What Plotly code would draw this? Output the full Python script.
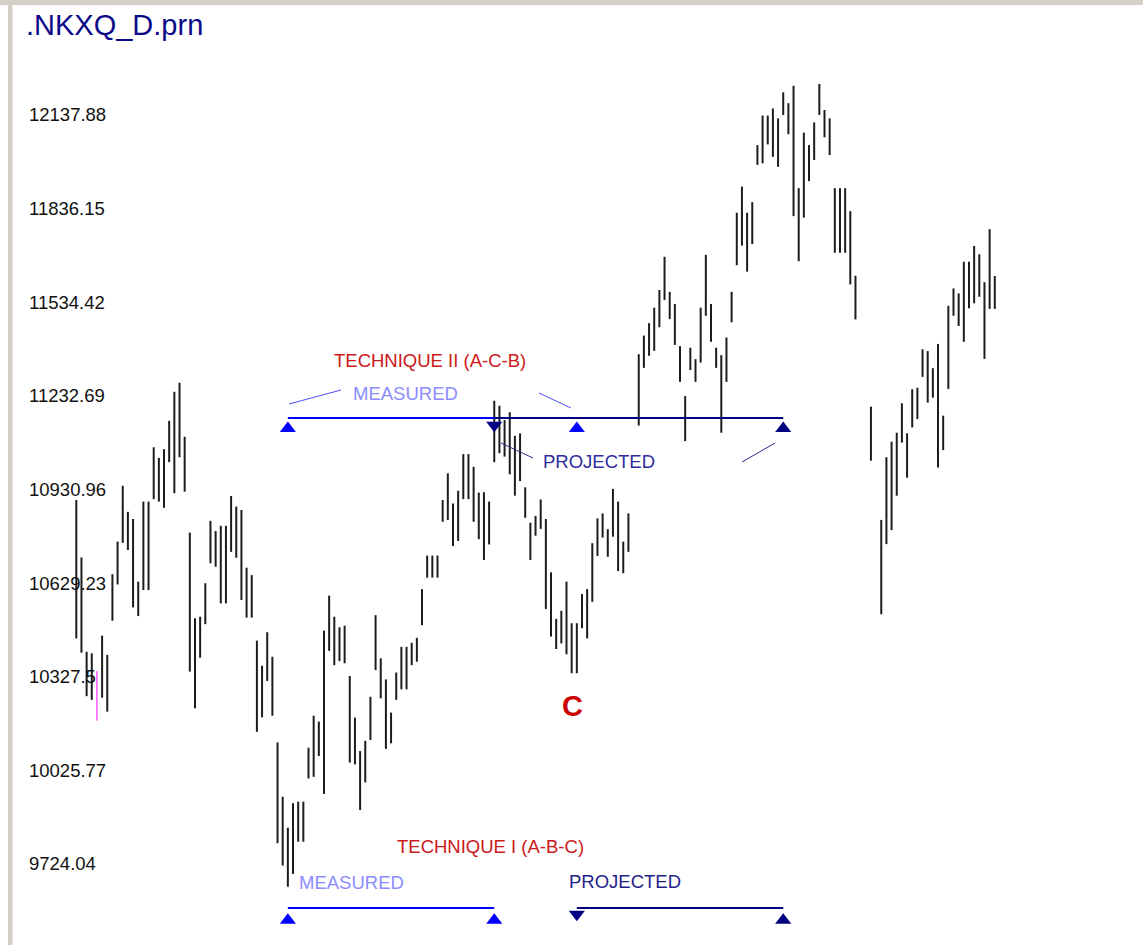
import plotly.graph_objects as go

# Daily high / low of .NKXQ, one entry per trading-day slot (None = no bar drawn)
highs = [
    10897, 10712, 10408, 10403, 10346, 10460, 10398, 10658, 10763, 10943,
    10859, 10836, 10634, 10892, 10892, 11067, 11033, 11061, 11152, 11246,
    11275, 11101, 10792, 10516, 10521, 10629, 10830, 10797, 10814, 10814,
    10910, 10876, 10865, 10679, 10655, 10444, 10363, 10471, 10392, 10116,
    9941, 9841, 9920, 9925, 9925, 10099, 10202, 10183, 10476, 10589,
    10521, 10487, 10492, 10330, 10196, 10088, 10121, 10263, 10526, 10387,
    10319, 10212, 10341, 10424, 10424, 10437, 10453, 10610, 10718, 10718,
    10718, 10897, 10983, 10886, 10927, 11045, 11045, 11004, 10921, 10922,
    10892, 11217, 11201, 11155, 11180, 11104, 11112, 10938, 10824, 10846,
    10899, 10836, 10664, 10514, 10540, 10634, 10500, 10500, 10594, 10610,
    10758, 10838, 10854, 10803, 10933, 10892, 10763, 10854, None, 11367,
    11427, 11467, 11517, 11574, 11681, 11568, 11529, 11393, 11232, 11388,
    11351, 11517, 11687, 11529, 11388, 11364, 11421, 11568, 11823, 11907,
    11823, 11857, 12041, 12136, 12136, 12159, 12127, 12211, 12176, 12232,
    11902, 12081, 12041, 12114, 12238, 12154, 12127, 11902, 11902, 11902,
    11828, 11620, None, None, 11198, None, 10833, 11035, 11085, 11114,
    11209, 11112, 11254, 11259, 11383, 11377, 11322, 11400, 11169, 11523,
    11579, 11563, 11665, 11665, 11716, 11689, 11599, 11770, 11619,
]
lows = [
    10451, 10405, 10265, 10253, 10186, 10260, 10215, 10508, 10625, 10759,
    10736, 10551, 10523, 10607, 10607, 10900, 10892, 10872, 11019, 10919,
    11035, 10924, 10344, 10226, 10389, 10497, 10693, 10682, 10564, 10564,
    10730, 10711, 10575, 10518, 10518, 10150, 10197, 10314, 10202, 9791,
    9719, 9651, 9692, 9796, 9796, 10000, 10005, 10072, 9950, 10411,
    10365, 10378, 10371, 10051, 10045, 9898, 9987, 10124, 10349, 10258,
    10095, 10113, 10253, 10287, 10287, 10365, 10376, 10494, 10647, 10647,
    10647, 10827, 10833, 10749, 10765, 10900, 10900, 10827, 10771, 10704,
    10754, 11019, 11048, 11037, 10980, 10911, 10958, 10840, 10704, 10782,
    10804, 10546, 10457, 10417, 10435, 10400, 10339, 10339, 10484, 10451,
    10569, 10717, 10776, 10714, 10779, 10668, 10661, 10730, None, 11137,
    11323, 11362, 11378, 11454, 11542, 11480, 11397, 11278, 11087, 11316,
    11278, 11340, 11491, 11407, 11323, 11114, 11278, 11470, 11654, 11717,
    11633, 11722, 11977, 11982, 12043, 12003, 11971, 12138, 12076, 11812,
    11667, 11807, 11925, 11993, 12138, 12066, 12009, 11694, 11694, 11694,
    11592, 11479, None, None, 11024, None, 10529, 10755, 10800, 10911,
    11082, 10969, 11131, 11158, 11294, 11211, 11227, 11002, 11058, 11255,
    11491, 11458, 11407, 11515, 11531, 11552, 11352, 11513, 11513,
]
highlight_slot = 4  # bar picked out in magenta

# Price axis labels
tick_values = [12137.88, 11836.15, 11534.42, 11232.69, 10930.96,
               10629.23, 10327.5, 10025.77, 9724.04]
tick_labels = ["12137.88", "11836.15", "11534.42", "11232.69", "10930.96",
               "10629.23", "10327.5", "10025.77", "9724.04"]

# Swing points (slot numbers) used by the two projection techniques
A_SLOT, B_SLOT, C_SLOT = 41, 81, 97
C_LOW = 10339
target_I = C_SLOT + (B_SLOT - A_SLOT)    # A-B measured, projected from C
target_II = B_SLOT + (C_SLOT - A_SLOT)   # A-C measured, projected from B

W, H = 1143, 945
BLUE, NAVY, RED, LIGHT = "#0000ff", "#000080", "#cc1a1a", "#8c8cff"
FONT = "Liberation Sans, Arial, sans-serif"


def px(x):
    return x / W


def py(y):
    return 1 - y / H


fig = go.Figure()

# Price bars as vertical high-low strokes
bx, by, mx, my = [], [], [], []
for i, (hi, lo) in enumerate(zip(highs, lows)):
    if hi is None:
        continue
    if i == highlight_slot:
        mx += [i, i, None]
        my += [lo, hi, None]
    else:
        bx += [i, i, None]
        by += [lo, hi, None]
fig.add_trace(go.Scatter(x=bx, y=by, mode="lines",
                         line=dict(color="#1c1c1c", width=2),
                         hoverinfo="skip", showlegend=False))
fig.add_trace(go.Scatter(x=mx, y=my, mode="lines",
                         line=dict(color="#ff00ff", width=1),
                         hoverinfo="skip", showlegend=False))

# Projection rows sit on a pixel-style overlay axis (y2)
ROW_II, ROW_I = 418, 908


def bracket(x0, x1, row, color):
    fig.add_shape(type="line", xref="x", yref="y2", x0=x0, x1=x1,
                  y0=row, y1=row, line=dict(color=color, width=2))


def tri(xs, row, symbol, color, dy):
    fig.add_trace(go.Scatter(x=xs, y=[row + dy] * len(xs), yaxis="y2",
                             mode="markers",
                             marker=dict(symbol=symbol, size=14, color=color,
                                         line=dict(width=0)),
                             hoverinfo="skip", showlegend=False))


# Technique II (A-C-B)
bracket(A_SLOT, C_SLOT, ROW_II, BLUE)
bracket(B_SLOT, target_II, ROW_II, NAVY)
tri([A_SLOT, C_SLOT], ROW_II, "triangle-up", BLUE, 10.5)
tri([B_SLOT], ROW_II, "triangle-down", NAVY, 7.2)
tri([target_II], ROW_II, "triangle-up", NAVY, 10.5)

# Technique I (A-B-C)
bracket(A_SLOT, B_SLOT, ROW_I, BLUE)
bracket(C_SLOT, target_I, ROW_I, NAVY)
tri([A_SLOT, B_SLOT], ROW_I, "triangle-up", BLUE, 12.3)
tri([C_SLOT], ROW_I, "triangle-down", NAVY, 6.2)
tri([target_I], ROW_I, "triangle-up", NAVY, 12.3)

# Leader strokes running from the labels to the bracket ends
leaders = [
    ((289, 404), (341, 390), "#4d4dff"),
    ((539, 393), (571, 408), "#4d4dff"),
    ((501, 443), (533, 458), "#2a2a90"),
    ((742, 462), (775, 443), "#2a2a90"),
]
for (x0, y0), (x1, y1), col in leaders:
    fig.add_shape(type="line", xref="paper", yref="paper",
                  x0=px(x0), y0=py(y0), x1=px(x1), y1=py(y1),
                  line=dict(color=col, width=1))


def label(text, x, y, color, size=18.5, anchor="left", bold=False):
    fig.add_annotation(text=f"<b>{text}</b>" if bold else text,
                       xref="paper", yref="paper", x=px(x), y=py(y),
                       xanchor=anchor, yanchor="middle", showarrow=False,
                       font=dict(family=FONT, size=size, color=color))


label("TECHNIQUE II (A-C-B)", 430, 360, RED, anchor="center")
label("MEASURED", 351, 393, LIGHT)
label("PROJECTED", 541, 461, "#2e2e9c")
label("TECHNIQUE I (A-B-C)", 490, 846, RED, anchor="center")
label("MEASURED", 297, 882, LIGHT)
label("PROJECTED", 567, 881, "#1f1f88")

# Swing point C marked under its bar
fig.add_annotation(text="<b>C</b>", x=C_SLOT - 0.8, y=C_LOW, xref="x", yref="y",
                   yshift=-33, showarrow=False, xanchor="center",
                   yanchor="middle",
                   font=dict(family=FONT, size=29, color="#cc0000"))

# Window frame strips
FRAME = "#d4d0c8"
fig.add_shape(type="rect", xref="paper", yref="paper", x0=0, x1=1,
              y0=py(5), y1=1, fillcolor=FRAME, line=dict(width=0))
fig.add_shape(type="rect", xref="paper", yref="paper", x0=px(8),
              x1=px(12.5), y0=0, y1=1, fillcolor=FRAME, line=dict(width=0))

# slot -> pixel: 76.3 + 5.16 * slot ; price -> pixel: 115 + (12137.88 - p) * 0.3103
x_lo = -76.3 / 5.16
x_hi = (W - 76.3) / 5.16
y_hi = 12137.88 + 115 / 0.3103
y_lo = 12137.88 - (H - 115) / 0.3103

fig.update_layout(
    width=W, height=H,
    margin=dict(l=0, r=0, t=0, b=0),
    paper_bgcolor="white", plot_bgcolor="white",
    title=dict(text=".NKXQ_D.prn", x=px(26), xanchor="left",
               y=py(25), yanchor="middle", xref="paper", yref="container",
               font=dict(family=FONT, size=29, color="#0a0a88")),
    xaxis=dict(range=[x_lo, x_hi], visible=False, fixedrange=True),
    yaxis=dict(range=[y_lo, y_hi], tickvals=tick_values, ticktext=tick_labels,
               ticklabelposition="inside", ticks="", ticklabelstandoff=26,
               showgrid=False, zeroline=False, showline=False,
               tickfont=dict(family=FONT, size=18.5, color="#111111")),
    yaxis2=dict(range=[H, 0], overlaying="y", visible=False),
)

fig.write_html("out.html")
